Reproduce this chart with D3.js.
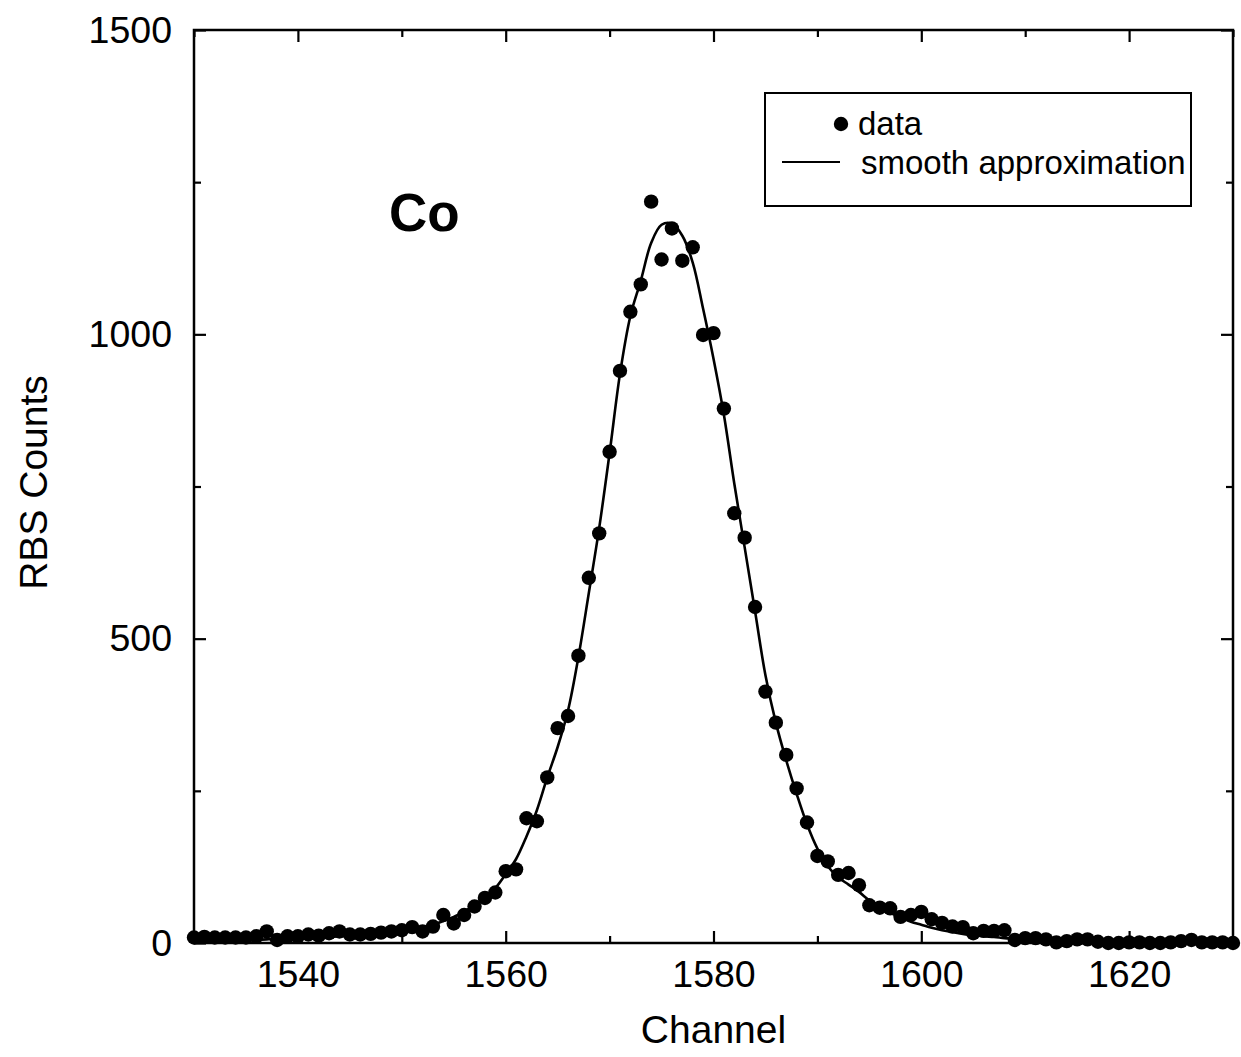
<!DOCTYPE html>
<html>
<head>
<meta charset="utf-8">
<script src="https://cdn.jsdelivr.net/npm/d3@7"></script>
<style>
  html, body { margin: 0; padding: 0; background: #fff; }
  svg { display: block; font-family: "Liberation Sans", Arial, Helvetica, sans-serif; }
</style>
</head>
<body>
<svg id="chart" width="1241" height="1057"></svg>
<script>
// ---- data ----
const channels = d3.range(1530, 1631);
const dataCounts = [
  9, 10, 9, 9, 9, 9, 11, 19, 5, 11,
  11, 14, 12, 16, 19, 14, 14, 15, 17, 19,
  21, 26, 19, 27, 46, 32, 46, 60, 74, 83,
  118, 121, 205, 200, 272, 353, 373, 472, 600, 673,
  807, 940, 1037, 1082, 1218, 1123, 1174, 1121, 1143, 999,
  1002, 878, 706, 666, 552, 413, 362, 309, 254, 198,
  143, 134, 112, 115, 95, 62, 58, 57, 43, 46,
  51, 39, 33, 27, 26, 16, 20, 20, 21, 5,
  8, 8, 6, 1, 3, 6, 6, 2, 0, 0,
  1, 1, 0, 0, 1, 3, 5, 1, 1, 1,
  0
];
const smoothCounts = [
  3, 3, 4, 4, 4, 5, 5, 6, 6, 7,
  7, 8, 9, 10, 11, 12, 13, 14, 15, 17,
  18, 21, 25, 30, 36, 43, 52, 62, 75, 90,
  113, 138, 175, 218, 272, 322, 382, 470, 575, 682,
  805, 935, 1030, 1088, 1150, 1180, 1182, 1162, 1118, 1042,
  960, 868, 755, 650, 545, 440, 362, 300, 245, 195,
  155, 126, 108, 96, 84, 70, 60, 50, 42, 35,
  30, 25, 21, 18, 15, 13, 11, 10, 8, 7,
  6, 5, 5, 4, 4, 3, 3, 3, 2, 2,
  2, 2, 2, 1, 1, 1, 1, 1, 1, 1,
  1
];
const xMajorTicks = [1540, 1560, 1580, 1600, 1620];
const xMinorTicks = [1530, 1550, 1570, 1590, 1610, 1630];
const yMajorTicks = [0, 500, 1000, 1500];
const yMinorTicks = [250, 750, 1250];
const legendLabels = ["data", "smooth approximation"];
const elementLabel = "Co";
const xTitle = "Channel";
const yTitle = "RBS Counts";

// ---- layout ----
const svg = d3.select("#chart");
const L = 194, R = 1233, T = 30, B = 943;
const x = d3.scaleLinear().domain([1530, 1630]).range([L, R]);
const y = d3.scaleLinear().domain([0, 1500]).range([B, T]);

const tickFont = 37.5;

// bottom axis
svg.append("g").attr("transform", `translate(0,${B})`)
  .call(d3.axisBottom(x).tickValues(xMajorTicks).tickSize(-12).tickPadding(17).tickFormat(d3.format("d")));
svg.append("g").attr("transform", `translate(0,${B})`)
  .call(d3.axisBottom(x).tickValues(xMinorTicks).tickSize(-7).tickFormat(""));
// top axis
svg.append("g").attr("transform", `translate(0,${T})`)
  .call(d3.axisTop(x).tickValues(xMajorTicks).tickSize(-12).tickFormat(""));
svg.append("g").attr("transform", `translate(0,${T})`)
  .call(d3.axisTop(x).tickValues(xMinorTicks).tickSize(-7).tickFormat(""));
// left axis
svg.append("g").attr("transform", `translate(${L},0)`)
  .call(d3.axisLeft(y).tickValues(yMajorTicks).tickSize(-12).tickPadding(22).tickFormat(d3.format("d")));
svg.append("g").attr("transform", `translate(${L},0)`)
  .call(d3.axisLeft(y).tickValues(yMinorTicks).tickSize(-7).tickFormat(""));
// right axis
svg.append("g").attr("transform", `translate(${R},0)`)
  .call(d3.axisRight(y).tickValues(yMajorTicks).tickSize(-12).tickFormat(""));
svg.append("g").attr("transform", `translate(${R},0)`)
  .call(d3.axisRight(y).tickValues(yMinorTicks).tickSize(-7).tickFormat(""));

svg.selectAll(".domain").remove();
svg.selectAll(".tick line").attr("stroke", "#000").attr("stroke-width", 2.2);
svg.selectAll(".tick text").attr("fill", "#000").attr("font-size", tickFont)
  .attr("font-family", "'Liberation Sans', Arial, sans-serif");

// frame
svg.append("rect").attr("x", L).attr("y", T).attr("width", R - L).attr("height", B - T)
  .attr("fill", "none").attr("stroke", "#000").attr("stroke-width", 2.5);

// smooth curve
const line = d3.line().x((d, i) => x(channels[i])).y(d => y(d)).curve(d3.curveCatmullRom.alpha(0.5));
svg.append("path").datum(smoothCounts).attr("d", line)
  .attr("fill", "none").attr("stroke", "#000").attr("stroke-width", 2.6);

// data points
svg.append("g").selectAll("circle").data(dataCounts).join("circle")
  .attr("cx", (d, i) => x(channels[i])).attr("cy", d => y(d)).attr("r", 7.2).attr("fill", "#000");

// axis titles
svg.append("text").attr("x", (L + R) / 2).attr("y", 1043).attr("text-anchor", "middle")
  .attr("font-size", 39).attr("fill", "#000").text(xTitle);
svg.append("text").attr("transform", `translate(47,${(T + B) / 2 - 4}) rotate(-90)`).attr("text-anchor", "middle")
  .attr("font-size", 39).attr("fill", "#000").text(yTitle);

// element label
svg.append("text").attr("x", 389).attr("y", 231).attr("font-size", 53).attr("font-weight", "bold")
  .attr("fill", "#000").text(elementLabel);

// legend
const lg = svg.append("g");
lg.append("rect").attr("x", 765).attr("y", 93).attr("width", 426).attr("height", 113)
  .attr("fill", "#fff").attr("stroke", "#000").attr("stroke-width", 2);
lg.append("circle").attr("cx", 841).attr("cy", 124).attr("r", 7.2).attr("fill", "#000");
lg.append("text").attr("x", 858).attr("y", 135).attr("font-size", 33).attr("fill", "#000").text(legendLabels[0]);
lg.append("line").attr("x1", 782).attr("x2", 840).attr("y1", 162).attr("y2", 162)
  .attr("stroke", "#000").attr("stroke-width", 2.2);
lg.append("text").attr("x", 861).attr("y", 174).attr("font-size", 33).attr("fill", "#000").text(legendLabels[1]);
</script>
</body>
</html>
